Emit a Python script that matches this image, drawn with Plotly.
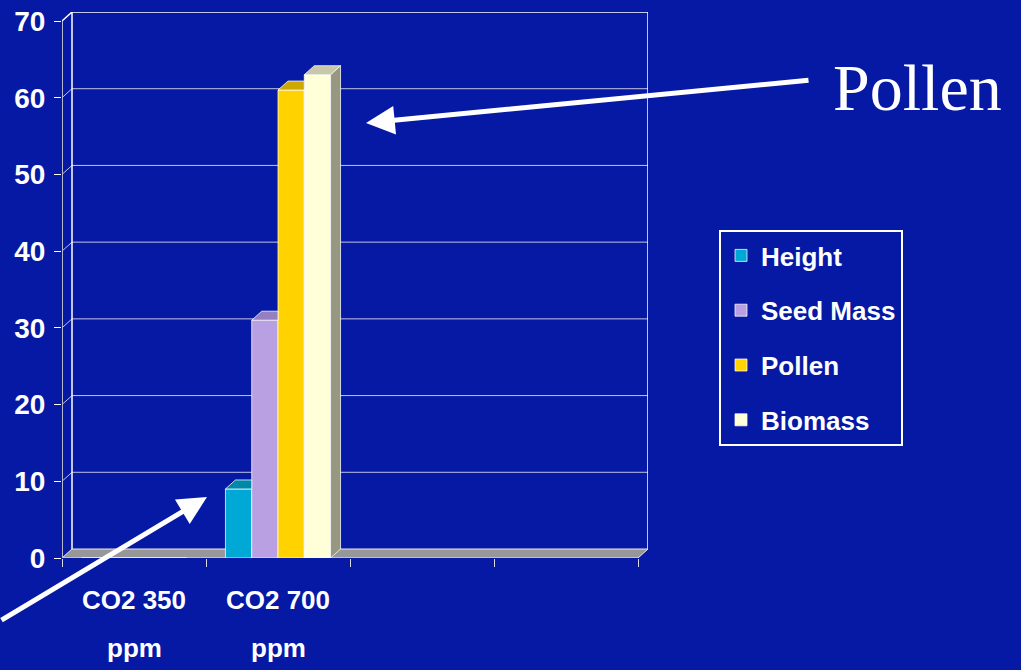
import plotly.graph_objects as go

# ---- data ----
categories = ["CO2 350 ppm", "CO2 700 ppm"]
category_line1 = ["CO2 350", "CO2 700"]
category_line2 = ["ppm", "ppm"]
series_names = ["Height", "Seed Mass", "Pollen", "Biomass"]
height = [0, 9]
seed_mass = [0, 31]
pollen = [0, 61]
biomass = [0, 63]
y_ticks = [0, 10, 20, 30, 40, 50, 60, 70]

# ---- styling ----
BG = "#0619A4"
front_colors = ["#00A8D6", "#B8A0E2", "#FFD200", "#FFFFD8"]
top_colors = ["#0088AA", "#9480C0", "#CCA800", "#C8C8A8"]
side_colors = ["#007090", "#7A68A0", "#A88A00", "#989880"]
EDGE = "rgba(255,255,255,0.75)"
LABEL_FONT = "Liberation Sans, Arial, sans-serif"
LABEL_SIZE = 26

W, H = 1021, 670
n_slots = 4                      # category slots along the floor
plot_left, plot_bottom = 62, 558 # front-plane origin in pixels
front_w, front_h = 576, 537      # front-plane size in pixels
depth_px = (10, 9)               # 3-D depth offset in pixels (right, up)
y_max = 70

px_per_x = front_w / n_slots
px_per_y = front_h / y_max
dx = depth_px[0] / px_per_x
dy = depth_px[1] / px_per_y

group_frac = 0.73
bar_w = group_frac / len(series_names)
x_pos = [i + 0.5 for i in range(len(categories))]
series = [height, seed_mass, pollen, biomass]

fig = go.Figure()

# front faces of the columns
for k, (name, vals) in enumerate(zip(series_names, series)):
    fig.add_trace(go.Bar(
        x=x_pos, y=vals, name=name,
        width=bar_w, offset=-group_frac / 2 + k * bar_w,
        marker=dict(color=front_colors[k], line=dict(color=EDGE, width=1)),
        legendgroup=name,
        hoverinfo="skip",
    ))

# top and side faces, derived from the same values
for j in range(len(categories)):
    for k, vals in enumerate(series):
        v = vals[j]
        if not v:
            continue
        x0 = x_pos[j] - group_frac / 2 + k * bar_w
        x1 = x0 + bar_w
        nxt = series[k + 1][j] if k + 1 < len(series) else None
        if nxt is not None and nxt >= v:
            tx = [x0, x1, x1, x0 + dx, x0]
            ty = [v, v, v + dy, v + dy, v]
        else:
            tx = [x0, x1, x1 + dx, x0 + dx, x0]
            ty = [v, v, v + dy, v + dy, v]
            fig.add_trace(go.Scatter(
                x=[x1, x1, x1 + dx, x1 + dx, x1], y=[0, v, v + dy, dy, 0],
                fill="toself", fillcolor=side_colors[k], mode="lines",
                line=dict(color=EDGE, width=1), showlegend=False, hoverinfo="skip",
            ))
        fig.add_trace(go.Scatter(
            x=tx, y=ty, fill="toself", fillcolor=top_colors[k], mode="lines",
            line=dict(color=EDGE, width=1), showlegend=False, hoverinfo="skip",
        ))

# walls, floor and gridlines of the 3-D box
x_end = n_slots
shapes = []
shapes.append(dict(type="path", xref="x", yref="y", layer="below",
                   path=f"M0,0 L{dx},{dy} L{dx},{y_max + dy} L0,{y_max} Z",
                   fillcolor=BG, line=dict(color="rgba(0,0,0,0)", width=0)))
for t in y_ticks[1:-1]:
    shapes.append(dict(type="path", xref="x", yref="y", layer="below",
                       path=f"M0,{t} L{dx},{t + dy} L{x_end + dx},{t + dy}",
                       line=dict(color="#C4C4E4", width=1)))
shapes.append(dict(type="path", xref="x", yref="y", layer="below",
                   path=(f"M0,{y_max} L{dx},{y_max + dy} L{x_end + dx},{y_max + dy} "
                         f"L{x_end + dx},{dy} M{dx},{dy} L{dx},{y_max + dy}"),
                   line=dict(color="white", width=1.5)))
shapes.append(dict(type="path", xref="x", yref="y", layer="below",
                   path=f"M0,0 L{x_end},0 L{x_end + dx},{dy} L{dx},{dy} Z",
                   fillcolor="#979797", line=dict(color="#E8E8E8", width=1)))
shapes.append(dict(type="line", xref="x", yref="y", layer="below",
                   x0=0, x1=0, y0=0, y1=y_max,
                   line=dict(color="#B8B8CC", width=2)))

def to_paper(px, py):
    return (px - plot_left) / (front_w + depth_px[0]), (plot_bottom - py) / (front_h + depth_px[1])

tick_font = dict(family=LABEL_FONT, size=LABEL_SIZE, color="white", weight="bold")

annotations = []
# second line of each category label
_, line2_y = to_paper(0, 648)
for xp, txt in zip(x_pos, category_line2):
    annotations.append(dict(
        xref="x", yref="paper", x=xp, y=line2_y, xanchor="center", yanchor="middle",
        text=txt, showarrow=False, font=tick_font,
    ))

# arrows pointing at the columns
for head, tail in [((366, 123), (810, 80)), ((207, 497), (-20, 621))]:
    hx, hy = to_paper(*head)
    annotations.append(dict(
        xref="paper", yref="paper", x=hx, y=hy, text="",
        showarrow=True, arrowhead=2, arrowsize=1.15, arrowwidth=5,
        arrowcolor="white", ax=tail[0] - head[0], ay=tail[1] - head[1], standoff=0,
    ))
lx, ly = to_paper(831, 88)
annotations.append(dict(
    xref="paper", yref="paper", x=lx, y=ly, xanchor="left", yanchor="middle",
    text="Pollen", showarrow=False,
    font=dict(family="Liberation Serif, Times New Roman, serif", size=66, color="white"),
))

fig.update_layout(
    width=W, height=H,
    paper_bgcolor=BG, plot_bgcolor=BG,
    margin=dict(l=plot_left, r=W - plot_left - front_w - depth_px[0],
                t=plot_bottom - front_h - depth_px[1], b=H - plot_bottom, pad=0),
    barmode="overlay",
    shapes=shapes,
    annotations=annotations,
    showlegend=True,
    legend=dict(
        xref="container", yref="container",
        x=719 / W, y=1 - 230 / H, xanchor="left", yanchor="top",
        bgcolor=BG, bordercolor="white", borderwidth=2,
        font=dict(family=LABEL_FONT, size=LABEL_SIZE, color="white", weight="bold"),
        traceorder="grouped", tracegroupgap=18, itemwidth=30,
        itemclick=False, itemdoubleclick=False,
    ),
    xaxis=dict(
        range=[0, n_slots + dx], showgrid=False, zeroline=False, showline=False,
        automargin=False,
        tickmode="array", tickvals=x_pos, ticktext=category_line1, ticks="",
        ticklabelstandoff=24,
        minor=dict(tickmode="linear", tick0=0, dtick=1, ticks="outside",
                   ticklen=8, tickcolor="#D8D8E8", tickwidth=1),
        tickfont=tick_font,
        fixedrange=True,
    ),
    yaxis=dict(
        range=[0, y_max + dy], showgrid=False, zeroline=False, showline=False,
        automargin=False,
        tickmode="array", tickvals=y_ticks, ticks="outside", ticklen=7,
        tickcolor="white", tickwidth=1, ticklabelstandoff=3,
        tickfont=dict(family=LABEL_FONT, size=28, color="white", weight="bold"),
        fixedrange=True,
    ),
)

fig.write_html("out.html")
